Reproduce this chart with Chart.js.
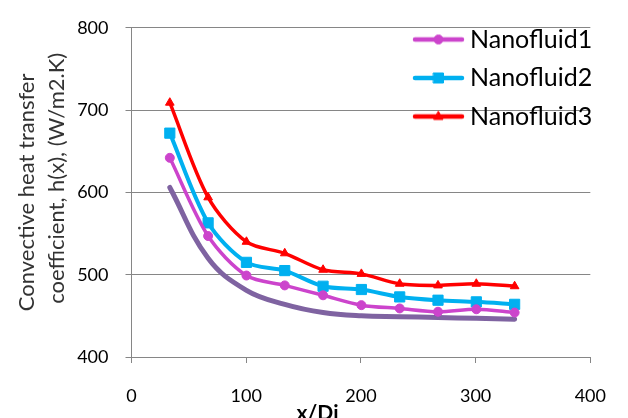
<!DOCTYPE html>
<html>
<head>
<meta charset="utf-8">
<script src="https://cdn.jsdelivr.net/npm/chart.js@4.4.1/dist/chart.umd.min.js"></script>
<style>
html,body{margin:0;padding:0;background:#fff;}
canvas{display:block;}
</style>
</head>
<body>
<canvas id="c" width="628" height="418"></canvas>
<script>
// ---- data ----
const xPositions = [33.4, 66.8, 100.2, 133.6, 167, 200.4, 233.8, 267.2, 300.6, 334];
const seriesNames = ['Nanofluid1', 'Nanofluid2', 'Nanofluid3'];
const nanofluid1 = [642, 547, 499, 487, 475, 463, 459, 455, 458, 454];
const nanofluid2 = [672, 563, 515, 505, 486, 482, 473, 469, 467, 464];
const nanofluid3 = [709, 594, 540, 526, 506, 501, 489, 487, 489, 486];
const baseCurve  = [606, 520, 481, 464, 454, 450, 449, 448, 447, 446];
const xTicks = [0, 100, 200, 300, 400];
const yTicks = [400, 500, 600, 700, 800];
const xTitle = 'x/Di';
const yTitle = ['Convective heat transfer', 'coefficient, h(x), (W/m2.K)'];

const colors = ['#CC44CC', '#00B0F0', '#FF0000'];
const baseColor = '#7F63A1';
const gridColor = '#868686';

function pts(vals) { return vals.map((v, i) => ({x: xPositions[i], y: v})); }

function makeIcon(color, style) {
  const c = document.createElement('canvas');
  c.width = 53; c.height = 16;
  const g = c.getContext('2d');
  g.strokeStyle = color; g.fillStyle = color;
  g.lineWidth = 4.5; g.lineCap = 'round';
  g.beginPath(); g.moveTo(3, 8); g.lineTo(50, 8); g.stroke();
  g.lineWidth = 1;
  g.beginPath();
  if (style === 'circle') {
    g.arc(26.5, 8, 4.5, 0, Math.PI * 2);
  } else if (style === 'rect') {
    g.rect(21.5, 3, 10, 10);
  } else {
    g.moveTo(26.5, 3); g.lineTo(31, 11); g.lineTo(22, 11); g.closePath();
  }
  g.fill(); g.stroke();
  return c;
}

function build() {
  const icons = [makeIcon(colors[0], 'circle'), makeIcon(colors[1], 'rect'), makeIcon(colors[2], 'triangle')];

  const legendPlace = {
    id: 'legendPlace',
    afterLayout(chart) {
      const lg = chart.legend;
      if (!lg) return;
      lg.left = 406; lg.right = 628; lg.top = 13.5; lg.bottom = 357;
    }
  };

  const common = {
    borderWidth: 3.5, tension: 0.3, borderCapStyle: 'round', borderJoinStyle: 'round',
    pointBorderWidth: 1, fill: false
  };

  new Chart(document.getElementById('c'), {
    type: 'line',
    data: {
      datasets: [
        Object.assign({}, common, {label: seriesNames[0], data: pts(nanofluid1), borderColor: colors[0], backgroundColor: colors[0],
          pointBackgroundColor: colors[0], pointBorderColor: colors[0], pointStyle: 'circle', pointRadius: 4.5}),
        Object.assign({}, common, {label: seriesNames[1], data: pts(nanofluid2), borderColor: colors[1], backgroundColor: colors[1],
          pointBackgroundColor: colors[1], pointBorderColor: colors[1], pointStyle: 'rect', pointRadius: 7.2, borderWidth: 4}),
        Object.assign({}, common, {label: seriesNames[2], data: pts(nanofluid3), borderColor: colors[2], backgroundColor: colors[2],
          pointBackgroundColor: colors[2], pointBorderColor: colors[2], pointStyle: 'triangle', pointRadius: 5}),
        Object.assign({}, common, {label: 'base', data: pts(baseCurve), borderColor: baseColor, backgroundColor: baseColor,
          pointRadius: 0, borderWidth: 5, tension: 0.4})
      ]
    },
    options: {
      responsive: false,
      devicePixelRatio: 1,
      animation: false,
      layout: {padding: {top: 16.5, right: 33, left: 0, bottom: 0}},
      plugins: {
        tooltip: {enabled: false},
        legend: {
          position: 'chartArea',
          align: 'start',
          labels: {
            usePointStyle: true,
            pointStyleWidth: 38,
            padding: 13.5,
            color: '#000',
            font: {family: 'Lato', size: 25},
            generateLabels() {
              return seriesNames.map((n, i) => ({
                text: n, pointStyle: icons[i], fillStyle: colors[i], strokeStyle: colors[i],
                lineWidth: 0, hidden: false, datasetIndex: i, fontColor: '#000'
              }));
            }
          }
        }
      },
      scales: {
        x: {
          type: 'linear', min: 0, max: 400,
          afterBuildTicks(s) { s.ticks = xTicks.map(v => ({value: v})); },
          afterFit(s) { s.height = 61; },
          grid: {drawOnChartArea: false, tickLength: 6, color: gridColor, lineWidth: 1},
          border: {color: gridColor, width: 1},
          ticks: {padding: 22, color: '#000', font: {family: 'Lato', size: 18}, maxRotation: 0},
          title: {display: true, text: xTitle + ' '.repeat(17), color: '#000',
            font: {family: 'Lato', size: 21, weight: 'bold', lineHeight: 1}, padding: {top: 0, bottom: -5.5}}
        },
        y: {
          min: 400, max: 800,
          afterBuildTicks(s) { s.ticks = yTicks.map(v => ({value: v})); },
          afterFit(s) { s.width = 131.5; },
          grid: {color: gridColor, lineWidth: 1, tickLength: 6, tickColor: gridColor},
          border: {color: gridColor, width: 1},
          ticks: {padding: 17, color: '#000', font: {family: 'Lato', size: 18}},
          title: {display: true, text: [' '.repeat(5) + yTitle[0] + ' '.repeat(5), ' '.repeat(5) + yTitle[1]], color: '#333',
            font: {family: 'Lato', size: 22, lineHeight: 1.364}, padding: {top: 12, bottom: 0}}
        }
      }
    },
    plugins: [legendPlace]
  });
}

if (document.fonts && document.fonts.load) {
  Promise.all([document.fonts.load('18px Lato'), document.fonts.load('bold 21px Lato')]).then(build, build);
} else { build(); }
</script>
</body>
</html>
